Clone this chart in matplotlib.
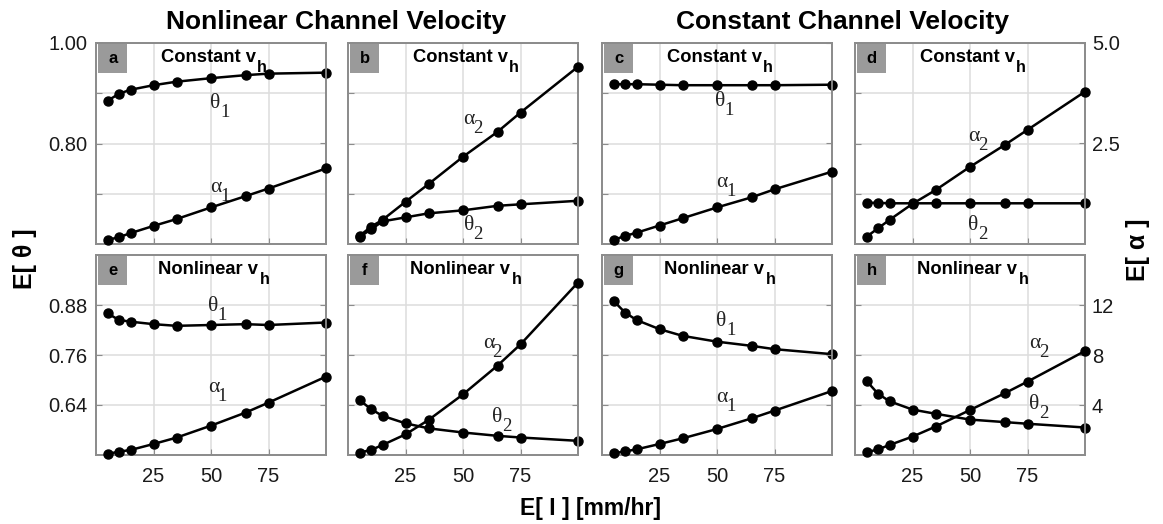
import numpy as np
import matplotlib
matplotlib.use('Agg')
import matplotlib.pyplot as plt
import matplotlib.transforms as mtransforms
from matplotlib.patches import Rectangle

plt.rcParams['font.family'] = ['Liberation Sans', 'DejaVu Sans']

# Mean rainfall intensity E[I] (mm/hr)
rain = [5, 10, 15, 25, 35, 50, 65, 75, 100]

# top row: constant hillslope velocity
a_theta1 = [0.885, 0.899, 0.907, 0.916, 0.923, 0.930, 0.936, 0.939, 0.941]
a_alpha1 = [0.10, 0.17, 0.27, 0.45, 0.62, 0.91, 1.19, 1.38, 1.88]
b_theta2 = [0.614, 0.629, 0.645, 0.653, 0.661, 0.667, 0.676, 0.679, 0.686]
b_alpha2 = [0.20, 0.43, 0.60, 1.05, 1.49, 2.17, 2.79, 3.27, 4.41]
c_theta1 = [0.918, 0.918, 0.918, 0.917, 0.916, 0.916, 0.916, 0.916, 0.917]
c_alpha1 = [0.10, 0.20, 0.28, 0.46, 0.64, 0.91, 1.16, 1.36, 1.80]
d_theta2 = [0.682, 0.682, 0.681, 0.681, 0.681, 0.681, 0.681, 0.681, 0.681]
d_alpha2 = [0.18, 0.39, 0.60, 1.00, 1.34, 1.92, 2.46, 2.84, 3.79]

# bottom row: nonlinear hillslope velocity
e_theta1 = [0.860, 0.844, 0.840, 0.834, 0.830, 0.832, 0.834, 0.832, 0.838]
e_alpha1 = [0.08, 0.27, 0.40, 0.88, 1.39, 2.35, 3.39, 4.19, 6.27]
f_theta2 = [0.652, 0.630, 0.614, 0.596, 0.584, 0.574, 0.566, 0.562, 0.554]
f_alpha2 = [0.19, 0.40, 0.80, 1.65, 2.80, 4.85, 7.15, 8.85, 13.8]
g_theta1 = [0.890, 0.862, 0.844, 0.822, 0.806, 0.792, 0.782, 0.774, 0.762]
g_alpha1 = [0.13, 0.29, 0.45, 0.88, 1.33, 2.08, 2.93, 3.55, 5.12]
h_theta2 = [0.698, 0.667, 0.649, 0.629, 0.619, 0.605, 0.599, 0.595, 0.586]
h_alpha2 = [0.21, 0.45, 0.80, 1.47, 2.27, 3.60, 4.93, 5.87, 8.32]

letters = ['a', 'b', 'c', 'd', 'e', 'f', 'g', 'h']
theta_series = [a_theta1, b_theta2, c_theta1, d_theta2,
                e_theta1, f_theta2, g_theta1, h_theta2]
alpha_series = [a_alpha1, b_alpha2, c_alpha1, d_alpha2,
                e_alpha1, f_alpha2, g_alpha1, h_alpha2]
subs = ['1', '2', '1', '2'] * 2
subtitles = ['Constant v'] * 4 + ['Nonlinear v'] * 4

# label positions (axes fraction) of the greek letter
theta_pos = [(0.52, 0.70), (0.525, 0.09), (0.515, 0.71), (0.515, 0.09),
             (0.51, 0.745), (0.65, 0.19), (0.52, 0.67), (0.78, 0.255)]
alpha_pos = [(0.52, 0.28), (0.525, 0.62), (0.52, 0.305), (0.515, 0.537),
             (0.51, 0.337), (0.61, 0.56), (0.52, 0.287), (0.78, 0.56)]

theta_lim = [(0.6, 1.0), (0.52, 1.0)]
alpha_lim = [(0, 5), (0, 16)]
theta_ticks = [[0.7, 0.8, 0.9, 1.0], [0.64, 0.76, 0.88]]
theta_labels = [['', '0.80', '', '1.00'], ['0.64', '0.76', '0.88']]
alpha_ticks = [[2.5, 5.0], [4, 8, 12]]
alpha_labels = [['2.5', '5.0'], ['4', '8', '12']]

W, H = 1163, 524
fig = plt.figure(figsize=(W / 100, H / 100), dpi=100)


def shifted(ax, dx, dy):
    # offset in pixels (right, down) from axes-fraction coordinates
    return ax.transAxes + mtransforms.ScaledTranslation(dx / 100, -dy / 100,
                                                        fig.dpi_scale_trans)


def greek_label(ax, pos, base, sub):
    ax.text(*pos, base, transform=ax.transAxes, ha='center', va='center',
            fontsize=15.5, family='Liberation Serif', color='#222222', zorder=6)
    ax.text(*pos, sub, transform=shifted(ax, 9, 9), ha='center',
            va='center', fontsize=13.5, family='Liberation Serif',
            color='#222222', zorder=6)


lefts = [96, 348, 602, 855]
tops = [43, 255]
bottoms = [244, 455]
pw = 230
spine_col = '#8c8c8c'

for k in range(8):
    row, col = divmod(k, 4)
    l = lefts[col]
    ax = fig.add_axes([l / W, 1 - bottoms[row] / H, pw / W,
                       (bottoms[row] - tops[row]) / H])
    ax2 = ax.twinx()
    ax.set_xlim(0, 100)
    ax.set_ylim(*theta_lim[row])
    ax2.set_ylim(*alpha_lim[row])
    ax.set_xticks([25, 50, 75])
    ax.set_yticks(theta_ticks[row])
    ax2.set_yticks(alpha_ticks[row])
    ax.grid(True, color='#dddddd', lw=1.1)
    ax.set_axisbelow(True)

    if row == 1:
        ax.set_xticklabels(['25', '50', '75'])
    else:
        ax.set_xticklabels([])
    if col == 0:
        ax.set_yticklabels(theta_labels[row])
    else:
        ax.set_yticklabels([])
    if col == 3:
        ax2.set_yticklabels(alpha_labels[row])
    else:
        ax2.set_yticklabels([])

    for a in (ax, ax2):
        a.tick_params(direction='in', length=4, width=0.8, color=spine_col,
                      labelsize=14.5, labelcolor='#1a1a1a')
        for s in a.spines.values():
            s.set_color(spine_col)
            s.set_linewidth(1.3)
    ax.tick_params(axis='x', pad=9)
    ax.tick_params(axis='y', pad=6)
    ax2.tick_params(axis='y', pad=5)

    ax.plot(rain, theta_series[k], '-o', color='black', lw=1.8, ms=6.5,
            clip_on=False, zorder=3)
    ax2.plot(rain, alpha_series[k], '-o', color='black', lw=1.8, ms=6.5,
             clip_on=False, zorder=3)

    ax.add_patch(Rectangle((0.01, 0.85), 0.125, 0.145, transform=ax.transAxes,
                           facecolor='#9a9a9a', edgecolor='none', zorder=4))
    ax.text(0.0725, 0.922, letters[k], transform=ax.transAxes, ha='center',
            va='center', fontsize=12, fontweight='bold', zorder=5)

    # subtitle with large subscript h
    anchor = 0.695 if row == 0 else 0.705
    ax2.text(anchor, 0.93, subtitles[k], transform=ax.transAxes, ha='right',
             va='center', fontsize=13.2, fontweight='bold')
    ax2.text(anchor, 0.93, 'h', transform=shifted(ax, 1.5, 10), ha='left',
             va='center', fontsize=11.5, fontweight='bold')

    greek_label(ax2, theta_pos[k], 'θ', subs[k])
    greek_label(ax2, alpha_pos[k], 'α', subs[k])

fig.text(336 / W, 1 - 29 / H, 'Nonlinear Channel Velocity', ha='center',
         va='baseline', fontsize=19, fontweight='bold')
fig.text(843 / W, 1 - 29 / H, 'Constant Channel Velocity', ha='center',
         va='baseline', fontsize=19, fontweight='bold')
fig.text(25 / W, 1 - 259 / H, 'E[ θ ]', rotation=90, ha='center', va='center',
         fontsize=18, fontweight='bold')
fig.text(1138 / W, 1 - 250 / H, 'E[ α ]', rotation=90, ha='center',
         va='center', fontsize=18, fontweight='bold')
fig.text(591 / W, 1 - 515 / H, 'E[ I ] [mm/hr]', ha='center', va='baseline',
         fontsize=16.5, fontweight='bold')

fig.savefig('out.png', dpi=100)
